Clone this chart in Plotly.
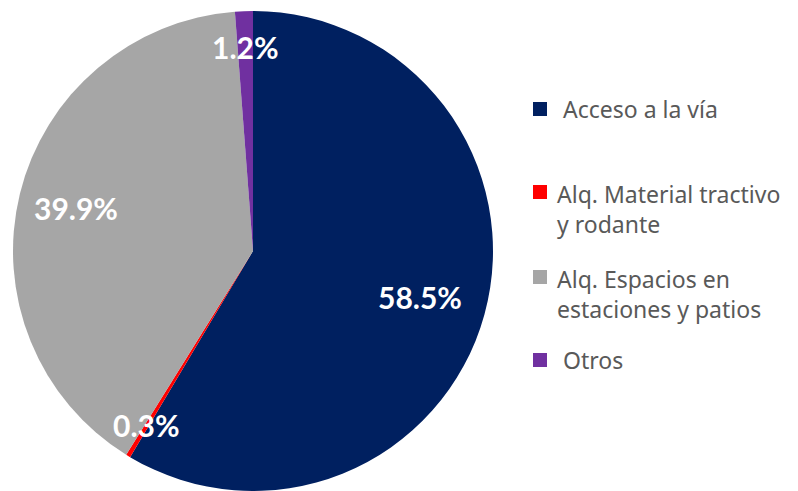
import numpy as np
import plotly.graph_objects as go

# data
categorias = ["Acceso a la vía", "Alq. Material tractivo<br>y rodante",
              "Alq. Espacios en<br>estaciones y patios", "Otros"]
porcentajes = [58.5, 0.3, 39.9, 1.2]
colores = ["#002060", "#FF0000", "#A6A6A6", "#7030A0"]

W, H = 798, 491
cx, cy, R = 253, 251, 240

fig = go.Figure()
fig.add_trace(go.Pie(
    labels=categorias,
    values=porcentajes,
    marker=dict(colors=colores, line=dict(width=0)),
    sort=False,
    direction="clockwise",
    rotation=0,
    textinfo="none",
    hoverinfo="label+percent",
    showlegend=False,
    domain=dict(x=[(cx - R) / W, (cx + R) / W],
                y=[max(0, 1 - (cy + R) / H), 1 - (cy - R) / H]),
))

# labels at mid-angle of each slice
radio_txt = [0.72, 0.85, 0.76, 0.85]
total = sum(porcentajes)
acum = 0
for v, r in zip(porcentajes, radio_txt):
    mid = (acum + v / 2) / total * 2 * np.pi
    acum += v
    x = cx + r * R * np.sin(mid)
    y = cy - r * R * np.cos(mid)
    fig.add_annotation(
        x=x / W, y=1 - y / H, xref="paper", yref="paper",
        xanchor="center", yanchor="middle",
        text=f"<b>{v:.1f}%</b>", showarrow=False,
        font=dict(family="Lato, Noto Sans, sans-serif", size=30, color="white"),
    )

# legend drawn by hand so spacing matches
leyenda_y = [109, 192, 277, 360]
for nombre, col, ly in zip(categorias, colores, leyenda_y):
    dos = "<br>" in nombre
    fig.add_shape(type="rect", xref="paper", yref="paper",
                  x0=533 / W, x1=547 / W, y0=1 - (ly + 7) / H, y1=1 - (ly - 7) / H,
                  fillcolor=col, line=dict(width=0))
    fig.add_annotation(
        x=(555 if dos else 561) / W, y=1 - (ly + (17 if dos else 0)) / H,
        xref="paper", yref="paper", xanchor="left", yanchor="middle",
        text=nombre, showarrow=False, align="left",
        font=dict(family="Noto Sans, sans-serif", size=23, color="#595959"),
    )

fig.update_layout(
    width=W, height=H,
    margin=dict(l=0, r=0, t=0, b=0),
    paper_bgcolor="white",
    plot_bgcolor="white",
)
fig.write_html("out.html", config={"displayModeBar": False},
               post_script="document.body.style.margin='0';")
